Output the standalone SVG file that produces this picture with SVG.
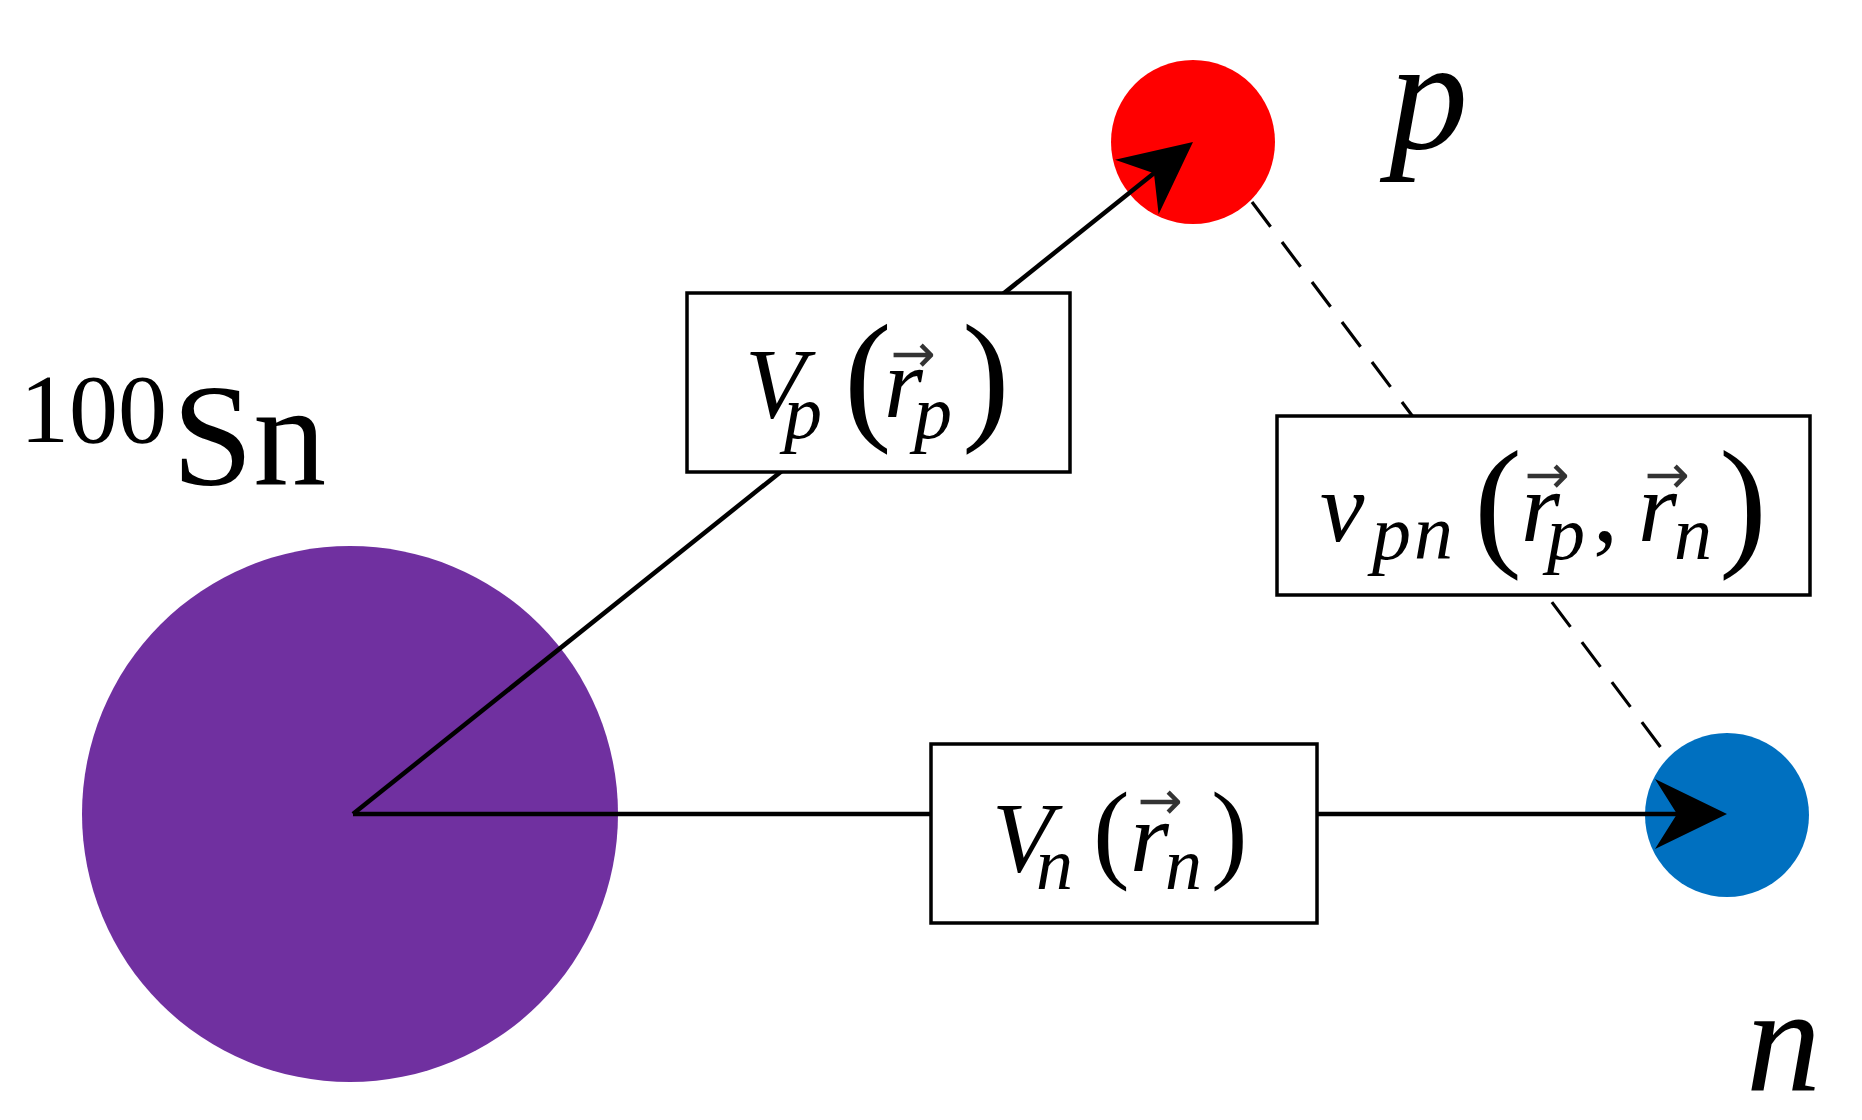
<svg xmlns="http://www.w3.org/2000/svg" width="1862" height="1120" viewBox="0 0 1862 1120">
  <style>
    .box { fill: #ffffff; stroke: #000000; stroke-width: 3.5; }
    .solid { fill: none; stroke: #000000; stroke-width: 4.5; stroke-linecap: butt; }
    .dash { fill: none; stroke: #000000; stroke-width: 3.2; stroke-dasharray: 31 19; }
    .mi { font-family: "Liberation Serif", "Times New Roman", serif; font-style: italic; fill: #000000; }
    .mr { font-family: "Liberation Serif", "Times New Roman", serif; font-style: normal; fill: #000000; }
    .vec { font-family: "DejaVu Sans", sans-serif; font-style: normal; fill: #333333; font-size: 54px; text-anchor: middle; }
  </style>
  <defs>
    <marker id="stealth" markerUnits="userSpaceOnUse" markerWidth="80" markerHeight="80" viewBox="0 0 80 80" refX="24" refY="35" orient="auto">
      <path d="M0,0 L72,35 L0,70 L22,35 Z" fill="#000000"/>
    </marker>
  </defs>
  <rect x="0" y="0" width="1862" height="1120" fill="#ffffff"/>

  <g id="node-sn">
    <circle cx="350" cy="814" r="268" fill="#7030A0"/>
  </g>
  <g id="node-p">
    <circle cx="1193" cy="142" r="82" fill="#FF0000"/>
  </g>
  <g id="node-n">
    <circle cx="1727" cy="815" r="82" fill="#0070C0"/>
  </g>

  <g id="connectors">
    <path class="solid" d="M353,814 L1155.5,172" marker-end="url(#stealth)"/>
    <path class="solid" d="M353,814 L1679,814" marker-end="url(#stealth)"/>
    <path class="dash" d="M1252,202 L1665,753"/>
  </g>

  <g id="label-vp">
    <rect class="box" x="687" y="293" width="383" height="179"/>
    <text class="mi" font-size="100"><tspan x="745" y="417">V</tspan><tspan x="784" y="438" font-size="76">p</tspan><tspan class="mr" x="844" y="424" font-size="143">(</tspan><tspan x="884" y="417">r</tspan><tspan class="vec" x="913" y="372">→</tspan><tspan x="914" y="438" font-size="76">p</tspan><tspan class="mr" x="962" y="424" font-size="143">)</tspan></text>
  </g>

  <g id="label-vpn">
    <rect class="box" x="1277" y="416" width="533" height="179"/>
    <text class="mi" font-size="100"><tspan x="1320" y="541">v</tspan><tspan x="1372" y="559" font-size="78">p</tspan><tspan x="1414" y="559" font-size="78">n</tspan><tspan class="mr" x="1474" y="550" font-size="144">(</tspan><tspan x="1521" y="541">r</tspan><tspan class="vec" x="1547" y="493">→</tspan><tspan x="1547" y="559" font-size="76">p</tspan><tspan class="mr" x="1593" y="541">,</tspan><tspan x="1638" y="541">r</tspan><tspan class="vec" x="1667" y="493">→</tspan><tspan x="1674" y="559" font-size="76">n</tspan><tspan class="mr" x="1719" y="550" font-size="144">)</tspan></text>
  </g>

  <g id="label-vn">
    <rect class="box" x="931" y="744" width="386" height="179"/>
    <text class="mi" font-size="100"><tspan x="992" y="871">V</tspan><tspan x="1036" y="889" font-size="74">n</tspan><tspan class="mr" x="1093" y="868" font-size="110">(</tspan><tspan x="1130" y="871">r</tspan><tspan class="vec" x="1160" y="819">→</tspan><tspan x="1165" y="889" font-size="74">n</tspan><tspan class="mr" x="1211" y="868" font-size="110">)</tspan></text>
  </g>

  <g id="label-sn">
    <text class="mr"><tspan x="20" y="442" font-size="98">100</tspan><tspan x="172" y="485" font-size="146">Sn</tspan></text>
  </g>
  <g id="label-p">
    <text class="mi" x="1389" y="148" font-size="158">p</text>
  </g>
  <g id="label-n">
    <text class="mi" x="1746" y="1090" font-size="150">n</text>
  </g>
</svg>
